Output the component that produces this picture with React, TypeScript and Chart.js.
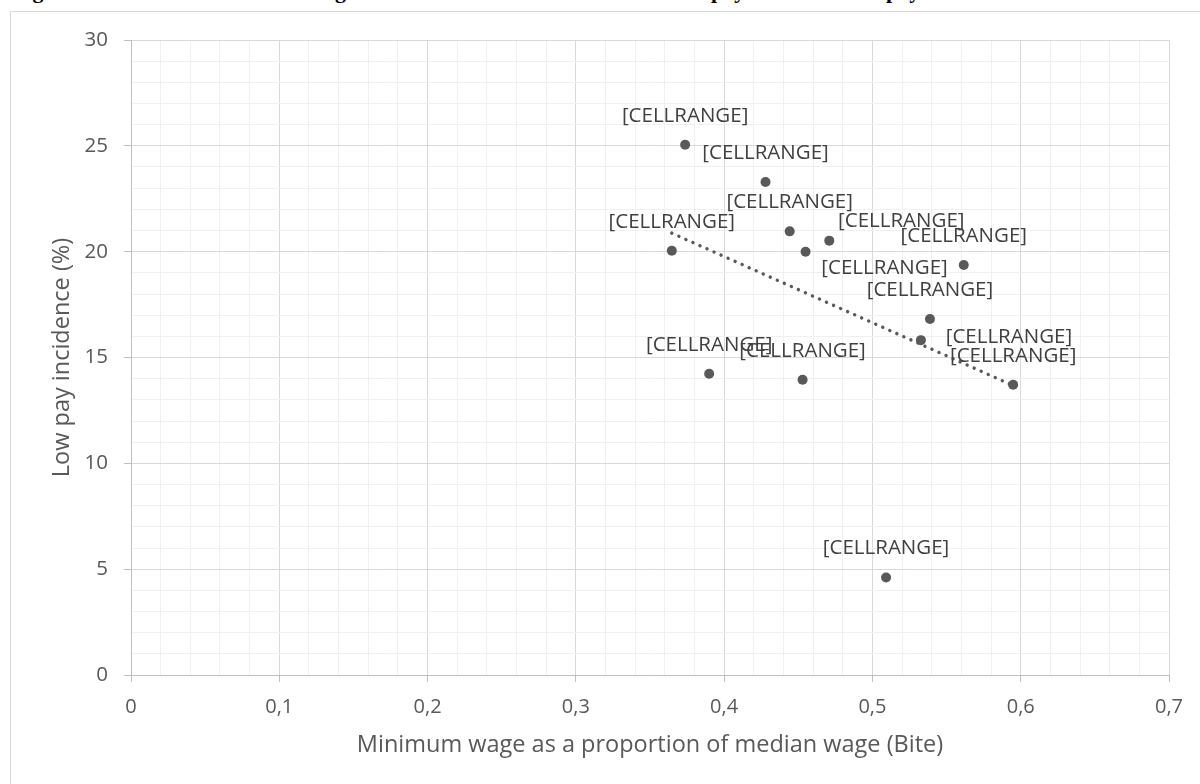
import React, { useEffect, useRef } from "react";
import { Chart, registerables } from "chart.js";

Chart.register(...registerables);

// ---- data ----
const biteValues = [0.3737, 0.4279, 0.4442, 0.4709, 0.4549, 0.3647, 0.5616, 0.5388, 0.5327, 0.5949, 0.3899, 0.4529, 0.5092];
const lowPayValues = [25.05, 23.29, 20.96, 20.52, 20.0, 20.04, 19.37, 16.82, 15.82, 13.71, 14.23, 13.95, 4.61];
const pointLabels = [
  "[CELLRANGE]", "[CELLRANGE]", "[CELLRANGE]", "[CELLRANGE]", "[CELLRANGE]",
  "[CELLRANGE]", "[CELLRANGE]", "[CELLRANGE]", "[CELLRANGE]", "[CELLRANGE]",
  "[CELLRANGE]", "[CELLRANGE]", "[CELLRANGE]",
];
const xAxisTitle = "Minimum wage as a proportion of median wage (Bite)";
const yAxisTitle = "Low pay incidence (%)";
const xMin = 0;
const xMax = 0.7;
const xMinorStep = 0.02;
const xMajorStep = 0.1;
const yMin = 0;
const yMax = 30;
const yMinorStep = 1;
const yMajorStep = 5;

// manual label nudges (pixels) – styling only
const labelShift: [number, number][] = [
  [0, 0], [0, 0], [0, 0], [72, 9], [79, 45], [0, 0], [0, 0],
  [0, 0], [88, 26], [0, 0], [0, 0], [0, 0], [0, 0],
];

const titleParts = [
  { text: "Figure 3: The minimum", left: 13 },
  { text: "wage bite and the incidence of low", left: 308 },
  { text: "pay and low", left: 711 },
  { text: "pay", left: 886 },
];

// linear trendline (least squares) computed from the data
function trend() {
  const n = biteValues.length;
  const mx = biteValues.reduce((a, b) => a + b, 0) / n;
  const my = lowPayValues.reduce((a, b) => a + b, 0) / n;
  let sxy = 0;
  let sxx = 0;
  for (let i = 0; i < n; i++) {
    sxy += (biteValues[i] - mx) * (lowPayValues[i] - my);
    sxx += (biteValues[i] - mx) * (biteValues[i] - mx);
  }
  const slope = sxy / sxx;
  const b = my - slope * mx;
  const x0 = Math.min(...biteValues);
  const x1 = Math.max(...biteValues);
  return [
    { x: x0, y: b + slope * x0 },
    { x: x1, y: b + slope * x1 },
  ];
}

const isMultiple = (v: number, step: number) => Math.abs(v / step - Math.round(v / step)) < 1e-6;

const FONT = "'Open Sans', 'DejaVu Sans', sans-serif";

const labelPlugin = {
  id: "cellLabels",
  afterDatasetsDraw(chart: any) {
    const meta = chart.getDatasetMeta(1);
    const ctx = chart.ctx;
    ctx.save();
    ctx.font = `20.5px ${FONT}`;
    ctx.fillStyle = "#404040";
    ctx.textAlign = "center";
    ctx.textBaseline = "middle";
    meta.data.forEach((el: any, i: number) => {
      const [dx, dy] = labelShift[i] || [0, 0];
      ctx.fillText(pointLabels[i], el.x + dx, el.y - 29 + dy);
    });
    ctx.restore();
  },
};

export default function App() {
  const canvasRef = useRef<HTMLCanvasElement | null>(null);

  useEffect(() => {
    if (!canvasRef.current) return;
    const points = biteValues.map((x, i) => ({ x, y: lowPayValues[i] }));
    const chart = new Chart(canvasRef.current, {
      type: "scatter",
      data: {
        datasets: [
          {
            type: "line",
            data: trend(),
            borderColor: "#595959",
            borderWidth: 3.4,
            borderDash: [0.1, 7.6],
            borderCapStyle: "round",
            pointRadius: 0,
            fill: false,
          } as any,
          {
            data: points,
            backgroundColor: "#595959",
            borderWidth: 0,
            pointRadius: 5,
            pointHoverRadius: 5,
          },
        ],
      },
      options: {
        animation: false,
        responsive: false,
        events: [],
        layout: { padding: { left: 0, top: 40, right: 31, bottom: 0 } },
        plugins: {
          legend: { display: false },
          tooltip: { enabled: false },
        },
        scales: {
          x: {
            type: "linear",
            min: xMin,
            max: xMax,
            ticks: {
              stepSize: xMinorStep,
              autoSkip: false,
              maxRotation: 0,
              padding: 13,
              color: "#595959",
              font: { family: FONT, size: 20 },
              callback: (v: any) => {
                const n = Number(v);
                if (!isMultiple(n, xMajorStep)) return "";
                return n === 0 ? "0" : n.toFixed(1).replace(".", ",");
              },
            },
            grid: {
              color: (c: any) => (isMultiple(c.tick.value, xMajorStep) ? "#d9d9d9" : "#f0f0f0"),
              tickColor: (c: any) => (isMultiple(c.tick.value, xMajorStep) ? "#bfbfbf" : "rgba(0,0,0,0)"),
              tickLength: 7,
              lineWidth: 1,
            },
            border: { color: "#bfbfbf", width: 1 },
            title: {
              display: true,
              text: xAxisTitle,
              color: "#595959",
              font: { family: FONT, size: 23.5 },
              padding: { top: 0, bottom: 25 },
            },
            afterFit: (s: any) => {
              s.height = 109;
            },
          },
          y: {
            type: "linear",
            min: yMin,
            max: yMax,
            ticks: {
              stepSize: yMinorStep,
              autoSkip: false,
              padding: 16,
              color: "#595959",
              font: { family: FONT, size: 20.5 },
              callback: (v: any) => {
                const n = Number(v);
                if (!isMultiple(n, yMajorStep)) return "";
                return String(n);
              },
            },
            grid: {
              color: (c: any) => (isMultiple(c.tick.value, yMajorStep) ? "#d9d9d9" : "#f0f0f0"),
              tickColor: (c: any) => (isMultiple(c.tick.value, yMajorStep) ? "#bfbfbf" : "rgba(0,0,0,0)"),
              tickLength: 7,
              lineWidth: 1,
            },
            border: { color: "#bfbfbf", width: 1 },
            title: {
              display: true,
              text: yAxisTitle,
              color: "#595959",
              font: { family: FONT, size: 23.5 },
              padding: { top: 48, bottom: 0 },
            },
            afterFit: (s: any) => {
              s.width = 131;
            },
          },
        },
      },
      plugins: [labelPlugin],
    });
    return () => chart.destroy();
  }, []);

  return (
    <div
      style={{
        position: "absolute",
        left: 0,
        top: 0,
        width: 1200,
        height: 784,
        overflow: "hidden",
        background: "#ffffff",
      }}
    >
      {titleParts.map((p, i) => (
        <span
          key={i}
          style={{
            position: "absolute",
            left: p.left,
            top: -20,
            fontFamily: "'Liberation Serif', serif",
            fontWeight: "bold",
            fontSize: 22,
            lineHeight: "22px",
            whiteSpace: "nowrap",
            color: "#000",
          }}
        >
          {p.text}
        </span>
      ))}
      <div
        style={{
          position: "absolute",
          left: 10,
          top: 11,
          width: 1220,
          height: 800,
          border: "1px solid #d9d9d9",
        }}
      />
      <canvas
        ref={canvasRef}
        width={1200}
        height={784}
        style={{ position: "absolute", left: 0, top: 0, width: 1200, height: 784 }}
      />
    </div>
  );
}
